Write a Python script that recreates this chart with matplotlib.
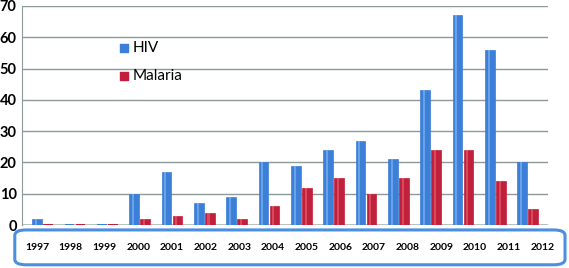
import numpy as np
import matplotlib
matplotlib.use('Agg')
import matplotlib.pyplot as plt
from matplotlib.patches import FancyBboxPatch
from matplotlib.transforms import blended_transform_factory

years = ['1997', '1998', '1999', '2000', '2001', '2002', '2003', '2004',
         '2005', '2006', '2007', '2008', '2009', '2010', '2011', '2012']
hiv = [2, 0, 0, 10, 17, 7, 9, 20, 19, 24, 27, 21, 43, 67, 56, 20]
malaria = [0, 0, 0, 2, 3, 4, 2, 6, 12, 15, 10, 15, 24, 24, 14, 5]

blue = '#3b7fd8'
red = '#c21f3a'

plt.rcParams['font.family'] = ['Lato', 'DejaVu Sans']

fig = plt.figure(figsize=(5.69, 2.68), dpi=100)
ax = fig.add_axes([0.039, 0.16, 0.924, 0.818])

x = np.arange(len(years))
w = 0.3
off = 0.34

# cylinder-ish bars: base colour, lighter highlight stripe
for vals, pos, col, light in [(hiv, x, blue, '#8fc0f5'), (malaria, x + off, red, '#e4707f')]:
    ax.bar(pos, vals, w, color=col, edgecolor=col, linewidth=0.5, zorder=3)
    ax.bar(pos - w * 0.12, vals, w * 0.22, color=light, alpha=0.55, linewidth=0, zorder=4)
    # flat disk for the zero-height bars
    ax.bar(pos, [0.5 if v == 0 else 0 for v in vals], w, color=col, linewidth=0, zorder=3)

ax.set_xlim(-0.46, 15.8)
ax.set_ylim(0, 70)
ax.set_yticks(range(0, 71, 10))
ax.yaxis.grid(True, color='#8e9a9a', linewidth=1.0, zorder=0)
ax.tick_params(axis='y', length=0, labelsize=10.5, pad=4)
for lab in ax.get_yticklabels():
    lab.set_fontweight('bold')
ax.set_xticks([])
for s in ['top', 'right', 'bottom']:
    ax.spines[s].set_visible(False)
ax.spines['left'].set_color('#8e9a9a')
ax.axhline(0, color='#b0b8b8', linewidth=1.2, zorder=2)

# legend
ax.scatter([2.7], [56.5], marker='s', s=32, color=blue, zorder=5, clip_on=False)
ax.text(2.95, 56.5, 'HIV', va='center', ha='left', fontsize=11)
ax.scatter([2.7], [47.7], marker='s', s=32, color=red, zorder=5, clip_on=False)
ax.text(2.95, 47.7, 'Malaria', va='center', ha='left', fontsize=11)

# year labels inside rounded box
box = FancyBboxPatch((0.026, 0.012), 0.967, 0.13, boxstyle='round,pad=0,rounding_size=0.02',
                     transform=fig.transFigure, fill=False, edgecolor='#4a8fe0', linewidth=2.2)
fig.patches.append(box)
trans = blended_transform_factory(ax.transData, fig.transFigure)
for i, yr in enumerate(years):
    ax.text(i * 1.042, 0.078, yr, transform=trans, ha='center', va='center',
            fontsize=7.5, fontweight='bold', clip_on=False)

fig.savefig('out.png', dpi=100)
